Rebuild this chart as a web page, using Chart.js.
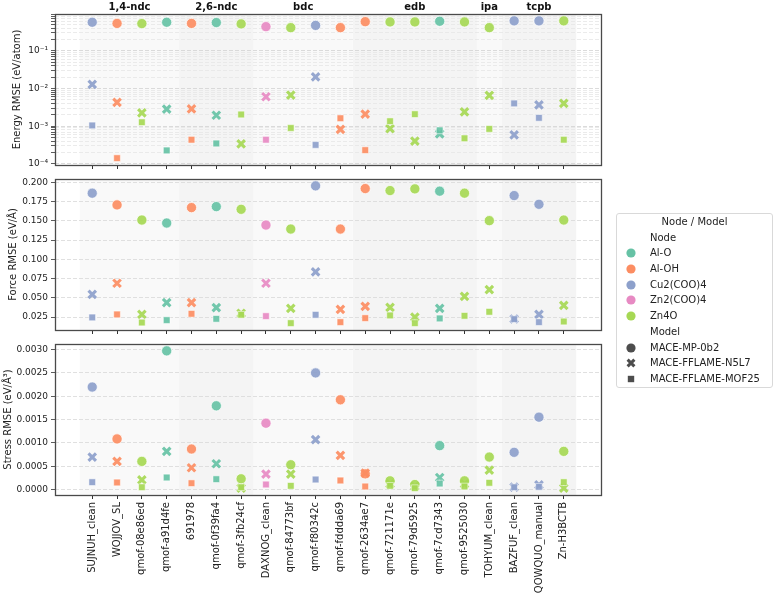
<!DOCTYPE html>
<html>
<head>
<meta charset="utf-8">
<script src="https://cdn.jsdelivr.net/npm/chart.js@4.4.0/dist/chart.umd.min.js"></script>
<style>
  body { margin: 0; background: #fff; }
  #wrap { position: relative; width: 774px; height: 601px; overflow: hidden; font-family: "DejaVu Sans", sans-serif; }
  #wrap canvas { position: absolute; left: 0; top: 0; }
  #legend { position: absolute; left: 616px; top: 213px; width: 157px; height: 175px; box-sizing: border-box;
    border: 1px solid #d9d9d9; border-radius: 3px; background: rgba(255,255,255,0.85);
    font: 10px "DejaVu Sans", sans-serif; color: #222; }
  #legend .row { position: relative; height: 15.7px; line-height: 15.7px; white-space: nowrap; }
  #legend .ttl { text-align: center; }
  #legend .txt { position: absolute; left: 33px; top: 0; }
  #legend svg { position: absolute; left: 8px; top: 2px; }
</style>
</head>
<body>
<div id="wrap">
  <canvas id="cE" width="774" height="601"></canvas>
  <canvas id="cF" width="774" height="601"></canvas>
  <canvas id="cS" width="774" height="601"></canvas>
  <div id="legend"></div>
</div>
<script>
// ---------------- DATA ----------------
const structures = ['SUJNUH_clean','WOJJOV_SL','qmof-08e86ed','qmof-a91d4fe','691978','qmof-0f39fa4','qmof-3fb24cf',
  'DAXNOG_clean','qmof-84773bf','qmof-f80342c','qmof-fddda69','qmof-2634ae7','qmof-721171e','qmof-79d5925',
  'qmof-7cd7343','qmof-9525030','TOHYUM_clean','BAZFUF_clean','QOWQUO_manual','Zn-H3BCTB'];
const nodeOf = ['Cu2(COO)4','Al-OH','Zn4O','Al-O','Al-OH','Al-O','Zn4O','Zn2(COO)4','Zn4O','Cu2(COO)4','Al-OH','Al-OH',
  'Zn4O','Zn4O','Al-O','Zn4O','Zn4O','Cu2(COO)4','Cu2(COO)4','Zn4O'];
const nodeNames = ['Al-O','Al-OH','Cu2(COO)4','Zn2(COO)4','Zn4O'];
const modelNames = ['MACE-MP-0b2','MACE-FFLAME-N5L7','MACE-FFLAME-MOF25'];
const groupNames = ['1,4-ndc','2,6-ndc','bdc','edb','ipa','tcpb'];
const groupFirst = [0,4,7,11,16,17];
const groupLast  = [3,6,10,15,16,19];

const energyMP    = [0.57,0.53,0.525,0.57,0.53,0.56,0.515,0.436,0.41,0.47,0.41,0.59,0.58,0.58,0.605,0.58,0.41,0.62,0.62,0.62];
const energyN5L7  = [0.0129,0.0043,0.00226,0.00284,0.0029,0.00196,0.00034,0.00605,0.0067,0.0203,0.00083,0.00209,0.00087,0.000405,0.00063,0.00241,0.0066,0.00059,0.0037,0.00403];
const energyMOF25 = [0.00105,0.000143,0.00128,0.000229,0.00044,0.00035,0.00205,0.00044,0.0009,0.00032,0.00163,0.000233,0.00136,0.00209,0.00078,0.00048,0.00085,0.00403,0.00167,0.00044];

const forceMP    = [0.1857,0.1705,0.1509,0.1470,0.1670,0.1683,0.1648,0.1444,0.1392,0.1952,0.1392,0.1917,0.1891,0.1913,0.1883,0.1857,0.1501,0.1826,0.1713,0.1509];
const forceN5L7  = [0.0545,0.0689,0.0285,0.0437,0.0437,0.0372,0.0300,0.0689,0.0363,0.0836,0.0350,0.0389,0.0376,0.0250,0.0363,0.0519,0.0606,0.0226,0.0285,0.0402];
const forceMOF25 = [0.0246,0.0285,0.0180,0.0211,0.0293,0.0228,0.0280,0.0263,0.0172,0.0280,0.0185,0.0237,0.0272,0.0172,0.0233,0.0267,0.0319,0.0224,0.0185,0.0193];

const stressMP    = [0.002196,0.001084,0.000603,0.002971,0.000868,0.001794,0.00023,0.001421,0.000531,0.002498,0.001923,0.000337,0.000187,0.000108,0.00094,0.000187,0.000696,0.000797,0.00155,0.000818];
const stressN5L7  = [0.000696,0.000603,0.000208,0.000818,0.000467,0.000553,0.00003,0.00033,0.00033,0.001069,0.000732,0.000352,0.00012,0.00007,0.000258,0.00012,0.000416,0.00005,0.0001,0.00003];
const stressMOF25 = [0.000158,0.000151,0.00005,0.000258,0.000136,0.000222,0.00005,0.000108,0.000079,0.000215,0.000194,0.000065,0.000079,0.00003,0.000129,0.000065,0.000144,0.00005,0.000057,0.000158];

const forceTicks  = [0.025,0.050,0.075,0.100,0.125,0.150,0.175,0.200];
const stressTicks = [0.0000,0.0005,0.0010,0.0015,0.0020,0.0025,0.0030];
const energyDecades = [-4,-3,-2,-1,0];

// ---------------- STYLE ----------------
const nodeColor = {'Al-O':'#66c2a5','Al-OH':'#fc8d62','Cu2(COO)4':'#8da0cb','Zn2(COO)4':'#e78ac3','Zn4O':'#a6d854'};
function rgba(hex, a){const n=parseInt(hex.slice(1),16);return `rgba(${n>>16},${(n>>8)&255},${n&255},${a})`;}
const ptColors = nodeOf.map(n => rgba(nodeColor[n], 0.92));

Chart.defaults.font.family = '"DejaVu Sans", sans-serif';
Chart.defaults.font.size = 9;
Chart.defaults.color = '#222';

const sup = {'-':'⁻','0':'⁰','1':'¹','2':'²','3':'³','4':'⁴','5':'⁵','6':'⁶','7':'⁷','8':'⁸','9':'⁹'};
const toSup = n => String(n).split('').map(c => sup[c]).join('');

function linRange(arrs){const v=[].concat(...arrs);const mn=Math.min(...v),mx=Math.max(...v),r=mx-mn;return [mn-0.05*r,mx+0.05*r];}
function logRange(arrs){const v=[].concat(...arrs).map(Math.log10);const mn=Math.min(...v),mx=Math.max(...v),r=mx-mn;return [10**(mn-0.05*r),10**(mx+0.05*r)];}

const FRAME = '#4a4a4a';
const framePlugin = {
  id: 'frameBands',
  beforeDraw(chart){
    const {ctx, chartArea:a, scales:{x}} = chart;
    ctx.save();
    groupFirst.forEach((s,g) => {
      const x0 = x.getPixelForValue(s-0.5), x1 = x.getPixelForValue(groupLast[g]+0.5);
      ctx.fillStyle = g%2===0 ? 'rgba(0,0,0,0.022)' : 'rgba(0,0,0,0.045)';
      ctx.fillRect(x0, a.top, x1-x0, a.bottom-a.top);
    });
    ctx.restore();
  },
  afterDraw(chart){
    const {ctx, chartArea:a, scales:{x}} = chart;
    ctx.save();
    ctx.strokeStyle = FRAME; ctx.lineWidth = 1.3;
    ctx.strokeRect(Math.round(a.left)+0.5, Math.round(a.top)+0.5, Math.round(a.right-a.left), Math.round(a.bottom-a.top));
    if (chart.options.plugins.frameBands && chart.options.plugins.frameBands.groups) {
      ctx.fillStyle = '#111';
      ctx.font = 'bold 10px "DejaVu Sans", sans-serif';
      ctx.textAlign = 'center'; ctx.textBaseline = 'alphabetic';
      groupNames.forEach((n,g) => {
        const xc = x.getPixelForValue((groupFirst[g]+groupLast[g])/2);
        ctx.fillText(n, xc, 9.5);
      });
    }
    ctx.restore();
  }
};

function datasets(mp, n5, mof){
  const pts = arr => arr.map((v,i)=>({x:i, y:v}));
  return [
    {label:modelNames[0], data:pts(mp), pointStyle:'circle', pointRadius:5.1, pointBackgroundColor:ptColors,
      pointBorderColor:'#ffffff', pointBorderWidth:0.7, showLine:false, order:3},
    {label:modelNames[1], data:pts(n5), pointStyle:'crossRot', pointRadius:5.3, pointBackgroundColor:ptColors,
      pointBorderColor:ptColors, pointBorderWidth:3.1, showLine:false, order:2},
    {label:modelNames[2], data:pts(mof), pointStyle:'rect', pointRadius:4.7, pointBackgroundColor:ptColors,
      pointBorderColor:'#ffffff', pointBorderWidth:0.5, showLine:false, order:1}
  ];
}

function xScale(showLabels, height){
  return {
    type:'linear', min:-1.5, max:structures.length+0.5,
    afterBuildTicks: s => { s.ticks = structures.map((_,i)=>({value:i})); },
    afterFit: s => { s.height = height; },
    grid:{drawOnChartArea:false, drawTicks:true, tickLength:4, tickColor:'#333', tickWidth:1},
    border:{display:false},
    ticks:{display:showLabels, autoSkip:false, maxRotation:90, minRotation:90, padding:3,
      font:{size:10}, color:'#222', callback: v => structures[v] !== undefined ? structures[v] : ''}
  };
}

function makeChart(id, cfg){
  return new Chart(document.getElementById(id), {
    type:'scatter',
    data:{datasets:cfg.datasets},
    options:{
      responsive:false, animation:false, events:[],
      layout:{autoPadding:false, padding:{left:0, right:173, top:cfg.top, bottom:cfg.bottom}},
      plugins:{legend:{display:false}, tooltip:{enabled:false}, frameBands:{groups:!!cfg.groups}},
      scales:{ x: xScale(cfg.showX, cfg.xh), y: cfg.y }
    },
    plugins:[framePlugin]
  });
}

// Energy (log)
const eR = logRange([energyMP, energyN5L7, energyMOF25]);
makeChart('cE', {
  datasets: datasets(energyMP, energyN5L7, energyMOF25),
  top:14, bottom:601-165-10, xh:10, showX:false, groups:true,
  y:{ type:'logarithmic', min:eR[0], max:eR[1],
    afterBuildTicks: s => {
      const t=[]; energyDecades.forEach(k => { for(let m=1;m<=9;m++){ const v=m*10**k; if(v>=s.min && v<=s.max) t.push({value:v, major:m===1}); } });
      s.ticks = t;
    },
    afterFit: s => { s.width = 55; },
    title:{display:true, text:'Energy RMSE (eV/atom)', font:{size:10}, color:'#222', padding:{top:11.6, bottom:0}},
    grid:{color: c => (c.tick && c.tick.major) ? '#d2d2d2' : '#e6e6e6', lineWidth:0.8, tickColor:'#333', tickLength:4,
      borderDash:[4,2]},
    border:{display:false, dash:[4,2]},
    ticks:{autoSkip:false, padding:3, font:{size:9}, color:'#222',
      callback: v => { const l=Math.log10(v); const r=Math.round(l); return Math.abs(l-r)<1e-6 ? '10'+toSup(r) : ''; }}
  }
});

// Force
const fR = linRange([forceMP, forceN5L7, forceMOF25]);
makeChart('cF', {
  datasets: datasets(forceMP, forceN5L7, forceMOF25),
  top:179, bottom:601-330-10, xh:10, showX:false,
  y:{ type:'linear', min:fR[0], max:fR[1],
    afterBuildTicks: s => { s.ticks = forceTicks.map(v=>({value:v})); },
    afterFit: s => { s.width = 55; },
    title:{display:true, text:'Force RMSE (eV/Å)', font:{size:10}, color:'#222', padding:{top:7.6, bottom:0}},
    grid:{color:'#d8d8d8', lineWidth:0.8, tickColor:'#333', tickLength:4, borderDash:[4,2]},
    border:{display:false, dash:[4,2]},
    ticks:{autoSkip:false, padding:3, font:{size:9}, color:'#222', callback: v => Number(v).toFixed(3)}
  }
});

// Stress
const sR = linRange([stressMP, stressN5L7, stressMOF25]);
makeChart('cS', {
  datasets: datasets(stressMP, stressN5L7, stressMOF25),
  top:344, bottom:0, xh:601-495, showX:true,
  y:{ type:'linear', min:sR[0], max:sR[1],
    afterBuildTicks: s => { s.ticks = stressTicks.map(v=>({value:v})); },
    afterFit: s => { s.width = 55; },
    title:{display:true, text:'Stress RMSE (eV/Å³)', font:{size:10}, color:'#222', padding:{top:2.6, bottom:0}},
    grid:{color:'#d8d8d8', lineWidth:0.8, tickColor:'#333', tickLength:4, borderDash:[4,2]},
    border:{display:false, dash:[4,2]},
    ticks:{autoSkip:false, padding:3, font:{size:9}, color:'#222', callback: v => Number(v).toFixed(4)}
  }
});

// ---------------- LEGEND ----------------
(function(){
  const L = document.getElementById('legend');
  const circle = c => `<svg width="12" height="12"><circle cx="6" cy="6" r="4.6" fill="${c}"/></svg>`;
  const cross = c => `<svg width="12" height="12"><path d="M2.6 2.6L9.4 9.4M9.4 2.6L2.6 9.4" stroke="${c}" stroke-width="3"/></svg>`;
  const square = c => `<svg width="12" height="12"><rect x="2.8" y="2.8" width="6.4" height="6.4" fill="${c}"/></svg>`;
  let h = `<div class="row ttl">Node / Model</div>`;
  h += `<div class="row"><span class="txt">Node</span></div>`;
  nodeNames.forEach(n => { h += `<div class="row">${circle(nodeColor[n])}<span class="txt">${n}</span></div>`; });
  h += `<div class="row"><span class="txt">Model</span></div>`;
  const mk = [circle, cross, square];
  modelNames.forEach((m,i) => { h += `<div class="row">${mk[i]('#4d4d4d')}<span class="txt">${m}</span></div>`; });
  L.innerHTML = h;
})();
</script>
</body>
</html>
